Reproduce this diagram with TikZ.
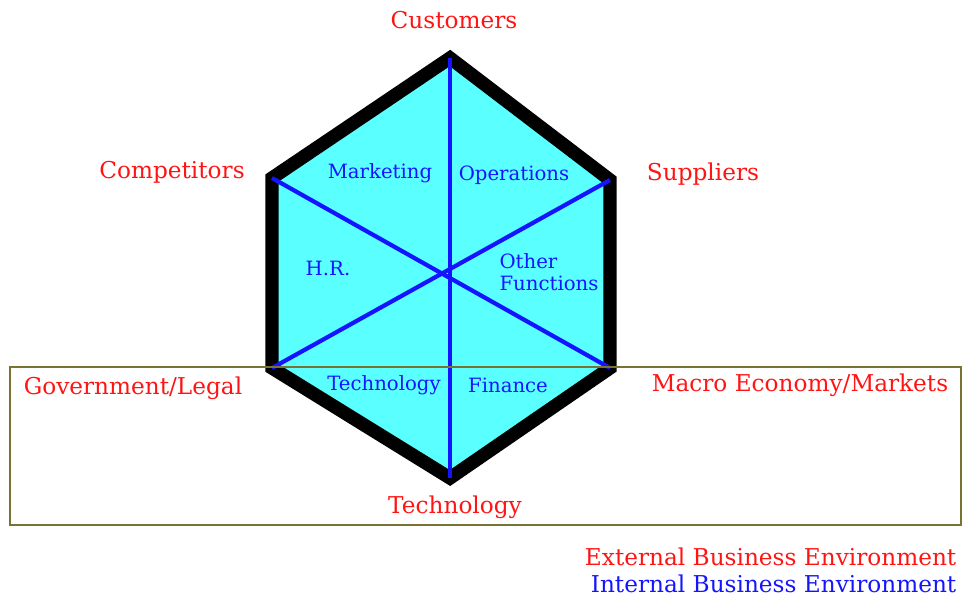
\documentclass[tikz,border=0pt]{standalone}
\usepackage{fontspec}
\setmainfont{DejaVu Serif}
\usepackage{tikz}
\usetikzlibrary{positioning}
\definecolor{hexfill}{RGB}{90,255,255}
\definecolor{boxline}{RGB}{120,115,50}
\definecolor{extred}{RGB}{255,20,20}
\definecolor{intblue}{RGB}{20,20,255}
\tikzset{
  extlabel/.style={text=extred, font=\fontsize{16.5}{18}\selectfont, inner sep=1pt},
  intlabel/.style={text=intblue, font=\fontsize{14}{15.5}\selectfont, inner sep=1pt},
}

\begin{document}
\begin{tikzpicture}[x=0.025cm, y=-0.025cm]

% Page frame
\useasboundingbox (0,0) rectangle (962,600);

% Hexagon corners
\coordinate (top) at (450,58);
\coordinate (upleft) at (272,178);
\coordinate (lowleft) at (272,368);
\coordinate (bottom) at (450,478);
\coordinate (lowright) at (610,368);
\coordinate (upright) at (610,180);

% Hexagon
\filldraw[fill=hexfill, draw=black, line width=9.5pt, line join=miter]
  (top) -- (upright) -- (lowright) -- (bottom) -- (lowleft) -- (upleft) -- cycle;

% Diagonals between opposite corners
\foreach \a/\b in {top/bottom, upleft/lowright, lowleft/upright} {
    \draw[intblue, line width=3pt] (\a) -- (\b);
}

% External environment box
\draw[boxline, line width=1pt] (10,367) rectangle (961,525);

% External factors
\node[extlabel] (customers) at (454,20) {Customers};
\node[extlabel] (competitors) at (172,172) {Competitors};
\node[extlabel] (suppliers) at (703,174) {Suppliers};
\node[extlabel] (government) at (133,388) {Government/Legal};
\node[extlabel] (macro) at (800,385) {Macro Economy/Markets};
\node[extlabel] (exttech) at (455,507) {Technology};

% Internal functions
\node[intlabel] (marketing) at (380,173) {Marketing};
\node[intlabel] (operations) at (514,175) {Operations};
\node[intlabel] (hr) at (328,268) {H.R.};
\node[intlabel, align=left] (other) at (549,272) {Other\\Functions};
\node[intlabel] (inttech) at (384,385) {Technology};
\node[intlabel] (finance) at (508,385) {Finance};

% Legend
\node[extlabel, anchor=east] (extkey) at (958,557) {External Business Environment};
\node[extlabel, text=intblue, below=4pt of extkey.south east, anchor=north east] (intkey) {Internal Business Environment};

\end{tikzpicture}
\end{document}
